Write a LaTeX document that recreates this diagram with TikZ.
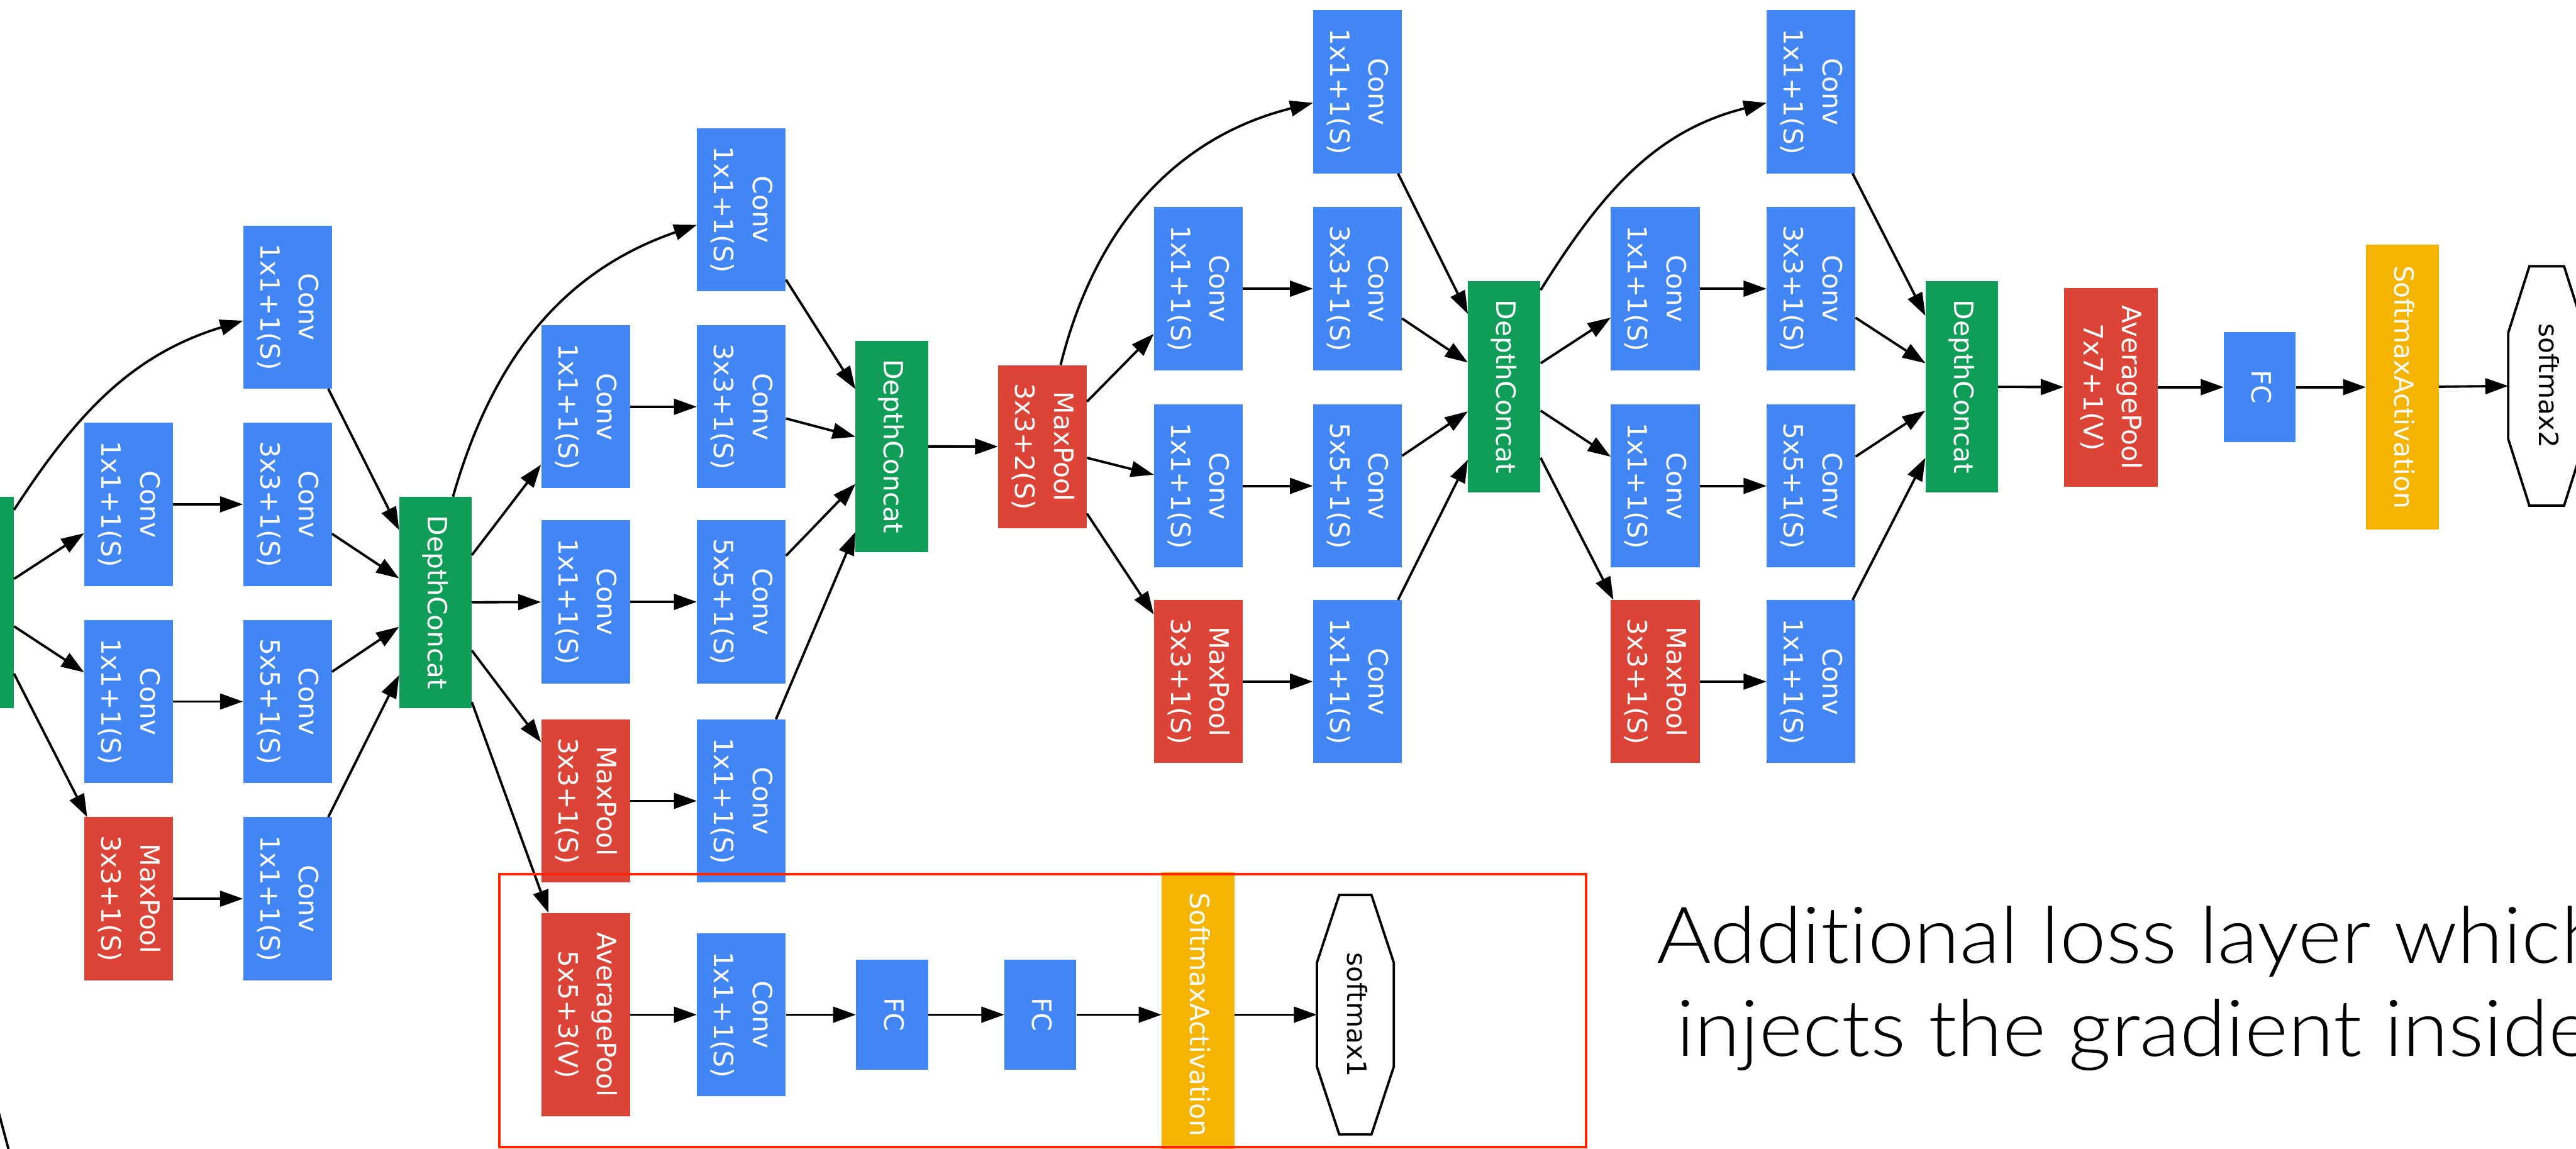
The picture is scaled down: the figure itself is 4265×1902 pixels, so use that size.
\documentclass[tikz,border=0pt]{standalone}
\usepackage{fontspec}
\usepackage{graphicx}
\usetikzlibrary{arrows.meta,calc}
\newfontfamily\nodefont{DejaVu Sans}
\newfontfamily\capfont{Lato}[UprightFont={* Light}, Ligatures={NoCommon}, FakeStretch=1.06]
\definecolor{gblue}{RGB}{66,133,244}
\definecolor{gred}{RGB}{219,68,55}
\definecolor{ggreen}{RGB}{15,157,88}
\definecolor{gyellow}{RGB}{244,180,0}
\definecolor{framered}{RGB}{255,38,0}
% two-line layer label, turned to read top to bottom
\newcommand{\vlab}[1]{\rotatebox{-90}{\begin{tabular}{@{}c@{}}#1\end{tabular}}}
\tikzset{
  layer/.style={rectangle, inner sep=0pt, text=white,
    font=\nodefont\fontsize{44}{64}\selectfont},
  conv/.style={layer, fill=gblue, minimum width=147pt, minimum height=270pt},
  pool/.style={layer, fill=gred, minimum width=147pt, minimum height=270pt},
  concat/.style={layer, fill=ggreen, minimum width=120pt, minimum height=350pt},
  fcbox/.style={layer, fill=gblue, minimum width=119pt, minimum height=182pt},
  actbox/.style={layer, fill=gyellow, minimum width=120pt, minimum height=472pt},
  outbox/.style={rectangle, inner sep=0pt, text=black,
    font=\nodefont\fontsize{44}{64}\selectfont,
    minimum width=127pt, minimum height=396pt},
  octline/.style={draw=black, line width=4pt, line join=miter},
  conn/.style={draw=black, line width=4pt, -{Triangle[length=38pt,width=26pt]}},
  lossframe/.style={draw=framered, line width=4.5pt, inner sep=0pt},
  captext/.style={inner sep=0pt, text=black, font=\capfont\fontsize{130}{154}\selectfont}
}
\begin{document}
\begin{tikzpicture}[x=1pt,y=1pt]
\useasboundingbox (0,0) rectangle (4265,-1902);
\fill[white] (0,0) rectangle (4265,-1902);
\clip (0,0) rectangle (4265,-1902);

% ---------- inception block 1 (its input concat lies mostly outside) ----------
\node[concat] (dc0) at (-37,-997.5) {};
\node[conv] (m1a) at (213,-835) {\vlab{Conv\\1x1+1(S)}};
\node[conv] (m1b) at (213,-1161.5) {\vlab{Conv\\1x1+1(S)}};
\node[pool] (m1c) at (213,-1488) {\vlab{MaxPool\\3x3+1(S)}};
\node[conv] (m1t) at (476,-508.5) {\vlab{Conv\\1x1+1(S)}};
\node[conv] (m1d) at (476,-835) {\vlab{Conv\\3x3+1(S)}};
\node[conv] (m1e) at (476,-1161.5) {\vlab{Conv\\5x5+1(S)}};
\node[conv] (m1f) at (476,-1488) {\vlab{Conv\\1x1+1(S)}};
\node[concat] (dc1) at (721,-997.5) {\vlab{DepthConcat}};

% ---------- inception block 2 ----------
\node[conv] (m2a) at (969.5,-673.5) {\vlab{Conv\\1x1+1(S)}};
\node[conv] (m2b) at (969.5,-996.5) {\vlab{Conv\\1x1+1(S)}};
\node[pool] (m2c) at (969.5,-1326) {\vlab{MaxPool\\3x3+1(S)}};
\node[conv] (m2t) at (1227.5,-347) {\vlab{Conv\\1x1+1(S)}};
\node[conv] (m2d) at (1227.5,-673.5) {\vlab{Conv\\3x3+1(S)}};
\node[conv] (m2e) at (1227.5,-996.5) {\vlab{Conv\\5x5+1(S)}};
\node[conv] (m2f) at (1227.5,-1326) {\vlab{Conv\\1x1+1(S)}};
\node[concat] (dc2) at (1476.5,-739) {\vlab{DepthConcat}};
\node[pool] (mp) at (1726,-739.5) {\vlab{MaxPool\\3x3+2(S)}};

% ---------- inception block 3 ----------
\node[conv] (m3a) at (1984,-478) {\vlab{Conv\\1x1+1(S)}};
\node[conv] (m3b) at (1984,-804.5) {\vlab{Conv\\1x1+1(S)}};
\node[pool] (m3c) at (1984,-1128.5) {\vlab{MaxPool\\3x3+1(S)}};
\node[conv] (m3t) at (2247.5,-152) {\vlab{Conv\\1x1+1(S)}};
\node[conv] (m3d) at (2247.5,-478) {\vlab{Conv\\3x3+1(S)}};
\node[conv] (m3e) at (2247.5,-804.5) {\vlab{Conv\\5x5+1(S)}};
\node[conv] (m3f) at (2247.5,-1128.5) {\vlab{Conv\\1x1+1(S)}};
\node[concat] (dc3) at (2490.5,-640.5) {\vlab{DepthConcat}};

% ---------- inception block 4 ----------
\node[conv] (m4a) at (2740.5,-478) {\vlab{Conv\\1x1+1(S)}};
\node[conv] (m4b) at (2740.5,-804.5) {\vlab{Conv\\1x1+1(S)}};
\node[pool] (m4c) at (2740.5,-1128.5) {\vlab{MaxPool\\3x3+1(S)}};
\node[conv] (m4t) at (2998.5,-152) {\vlab{Conv\\1x1+1(S)}};
\node[conv] (m4d) at (2998.5,-478) {\vlab{Conv\\3x3+1(S)}};
\node[conv] (m4e) at (2998.5,-804.5) {\vlab{Conv\\5x5+1(S)}};
\node[conv] (m4f) at (2998.5,-1128.5) {\vlab{Conv\\1x1+1(S)}};
\node[concat] (dc4) at (3248,-640.5) {\vlab{DepthConcat}};

% ---------- main classifier ----------
\node[pool, minimum width=155pt, minimum height=329pt] (avg7) at (3494.5,-641) {\vlab{AveragePool\\7x7+1(V)}};
\node[fcbox] (fc) at (3741.5,-641) {\vlab{FC}};
\node[actbox] (soft) at (3977.5,-641) {\vlab{SoftmaxActivation}};
\node[outbox] (sm2) at (4216.5,-639) {\vlab{softmax2}};
\draw[octline] ($(sm2.west)+(0,88)$) -- ($(sm2.north west)+(35,0)$) -- ($(sm2.north east)+(-35,0)$)
  -- ($(sm2.east)+(0,88)$) -- ($(sm2.east)+(0,-88)$) -- ($(sm2.south east)+(-35,0)$)
  -- ($(sm2.south west)+(35,0)$) -- ($(sm2.west)+(0,-88)$) -- cycle;

% ---------- auxiliary classifier ----------
\node[pool, minimum height=336pt] (avg5) at (969.5,-1680) {\vlab{AveragePool\\5x5+3(V)}};
\node[conv] (lconv) at (1227.5,-1680) {\vlab{Conv\\1x1+1(S)}};
\node[fcbox] (fc1) at (1477,-1680) {\vlab{FC}};
\node[fcbox] (fc2) at (1722.5,-1680) {\vlab{FC}};
\node[actbox] (lsoft) at (1983.5,-1680) {\vlab{SoftmaxActivation}};
\node[outbox] (sm1) at (2244,-1680) {\vlab{softmax1}};
\draw[octline] ($(sm1.west)+(0,86)$) -- ($(sm1.north west)+(37,0)$) -- ($(sm1.north east)+(-37,0)$)
  -- ($(sm1.east)+(0,86)$) -- ($(sm1.east)+(0,-86)$) -- ($(sm1.south east)+(-37,0)$)
  -- ($(sm1.south west)+(37,0)$) -- ($(sm1.west)+(0,-86)$) -- cycle;

% ---------- connections ----------
\draw[conn] ([yshift=-22pt]dc0.north east) to[out=57,in=197] (m1t);
\draw[conn] (dc0) -- (m1a);
\draw[conn] (dc0) -- (m1b);
\draw[conn] (dc0) -- (m1c);
\draw[conn] (m1a) -- (m1d);
\draw[conn] (m1b) -- (m1e);
\draw[conn] (m1c) -- (m1f);
\foreach \s in {m1t,m1d,m1e,m1f} \draw[conn] (\s) -- (dc1);

\draw[conn] ([xshift=29pt]dc1.north) to[out=74,in=199] (m2t);
\draw[conn] (dc1) -- (m2a);
\draw[conn] (dc1) -- (m2b);
\draw[conn] (dc1) -- (m2c);
\draw[conn] (dc1) -- (avg5);
\draw[conn] (m2a) -- (m2d);
\draw[conn] (m2b) -- (m2e);
\draw[conn] (m2c) -- (m2f);
\foreach \s in {m2t,m2d,m2e,m2f} \draw[conn] (\s) -- (dc2);
\draw[conn] (dc2) -- (mp);

\draw[conn] ([xshift=30pt]mp.north) to[out=76,in=194] (m3t);
\draw[conn] (mp) -- (m3a);
\draw[conn] (mp) -- (m3b);
\draw[conn] (mp) -- (m3c);
\draw[conn] (m3a) -- (m3d);
\draw[conn] (m3b) -- (m3e);
\draw[conn] (m3c) -- (m3f);
\foreach \s in {m3t,m3d,m3e,m3f} \draw[conn] (\s) -- (dc3);

\draw[conn] ([yshift=-15pt]dc3.north east) to[out=58,in=194] (m4t);
\draw[conn] (dc3) -- (m4a);
\draw[conn] (dc3) -- (m4b);
\draw[conn] (dc3) -- (m4c);
\draw[conn] (m4a) -- (m4d);
\draw[conn] (m4b) -- (m4e);
\draw[conn] (m4c) -- (m4f);
\foreach \s in {m4t,m4d,m4e,m4f} \draw[conn] (\s) -- (dc4);

\draw[conn] (dc4) -- (avg7);
\draw[conn] (avg7) -- (fc);
\draw[conn] (fc) -- (soft);
\draw[conn] (soft) -- (sm2.west);

\draw[conn] (avg5) -- (lconv);
\draw[conn] (lconv) -- (fc1);
\draw[conn] (fc1) -- (fc2);
\draw[conn] (fc2) -- (lsoft);
\draw[conn] (lsoft) -- (sm1.west);

% edge leaving the picture at the lower left
\coordinate (offa) at (-20,-1775);
\coordinate (offb) at (20,-1925);
\draw[line width=4pt] (offa) -- (offb);

% frame round the auxiliary classifier
\node[lossframe, minimum width=1799pt, minimum height=452pt] (auxframe) at (1726.5,-1673) {};

% caption
\node[captext, anchor=base west] (cap1) at (2743,-1595) {Additional loss layer which};
\node[captext, anchor=base west] (cap2) at (2775,-1749) {injects the gradient inside};
\end{tikzpicture}
\end{document}
